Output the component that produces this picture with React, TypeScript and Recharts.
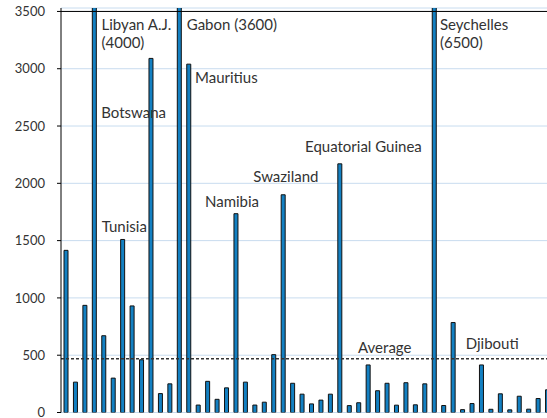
import React from 'react';
import {
  BarChart,
  Bar,
  XAxis,
  YAxis,
  CartesianGrid,
  ReferenceLine,
  ReferenceDot,
} from 'recharts';

// countries in chart order (only the annotated ones are named in the source)
const countries = [
  'C01', 'C02', 'C03', 'Libyan A.J.', 'C05', 'C06', 'Tunisia', 'C08', 'C09', 'Botswana',
  'C11', 'C12', 'Gabon', 'Mauritius', 'C15', 'C16', 'C17', 'C18', 'Namibia', 'C20',
  'C21', 'C22', 'C23', 'Swaziland', 'C25', 'C26', 'C27', 'C28', 'C29', 'Equatorial Guinea',
  'C31', 'C32', 'C33', 'C34', 'C35', 'C36', 'C37', 'C38', 'C39', 'Seychelles',
  'C41', 'Djibouti', 'C43', 'C44', 'C45', 'C46', 'C47', 'C48', 'C49', 'C50',
  'C51', 'C52',
];

const values = [
  1415, 265, 935, 4000, 670, 300, 1510, 930, 460, 3090,
  165, 250, 3600, 3040, 65, 272, 115, 215, 1735, 265,
  65, 90, 505, 1900, 255, 160, 75, 108, 160, 2170,
  60, 85, 415, 190, 255, 64, 260, 67, 250, 6500,
  61, 785, 25, 78, 415, 28, 163, 23, 142, 29,
  122, 198,
];

const average = 470;
const yTicks = [0, 500, 1000, 1500, 2000, 2500, 3000, 3500];

const data = countries.map((name, i) => ({ name, value: values[i] }));

// text annotations: anchored on a bar, at a data height, shifted by dx px
const notes = [
  { at: 'Libyan A.J.', y: 3340, dx: 7.5, lines: ['Libyan A.J.', '(4000)'] },
  { at: 'Gabon', y: 3340, dx: 7.7, lines: ['Gabon (3600)'] },
  { at: 'Seychelles', y: 3340, dx: 6, lines: ['Seychelles', '(6500)'] },
  { at: 'Mauritius', y: 2878, dx: 6.5, lines: ['Mauritius'] },
  { at: 'Botswana', y: 2567, dx: -49.5, lines: ['Botswana'] },
  { at: 'Tunisia', y: 1578, dx: -20.7, lines: ['Tunisia'] },
  { at: 'Namibia', y: 1796, dx: -30.7, lines: ['Namibia'] },
  { at: 'Swaziland', y: 2014, dx: -29.6, lines: ['Swaziland'] },
  { at: 'Equatorial Guinea', y: 2276, dx: -34.5, lines: ['Equatorial Guinea'] },
  { at: 'Djibouti', y: 551, dx: 12.9, lines: ['Djibouti'] },
  { at: 'C32', y: 522, dx: -0.4, lines: ['Average'] },
];

const FONT = 'Lato, "Open Sans", sans-serif';

const NoteText = ({ cx, cy, dx, lines }: any) => (
  <text x={cx + dx} y={cy} fill="#333" fontSize={15} fontFamily={FONT}>
    {lines.map((l: string, i: number) => (
      <tspan key={i} x={cx + dx} dy={i === 0 ? 0 : 18.5}>
        {l}
      </tspan>
    ))}
  </text>
);

export default function App() {
  return (
    <div style={{ width: 547, height: 418, overflow: 'hidden' }}>
      <style>{'html,body{margin:0;overflow:hidden;}'}</style>
      <BarChart
        width={560}
        height={418}
        data={data}
        margin={{ top: 8, right: 8, bottom: 5.5, left: 0 }}
      >
        <CartesianGrid vertical={false} stroke="#c8dcef" strokeWidth={1} />
        <XAxis
          dataKey="name"
          type="category"
          tick={false}
          tickLine={false}
          height={0}
          axisLine={{ stroke: '#000', strokeWidth: 1 }}
        />
        <YAxis
          domain={[0, 3530]}
          ticks={yTicks}
          interval={0}
          allowDataOverflow
          width={61}
          tickSize={4}
          tickMargin={12}
          axisLine={{ stroke: '#000' }}
          tickLine={{ stroke: '#000' }}
          tick={{ fill: '#333', fontSize: 13, fontFamily: FONT }}
        />
        <ReferenceLine y={3500} stroke="#000" strokeWidth={1} />
        <Bar
          dataKey="value"
          barSize={4}
          fill="#1380c2"
          stroke="#111"
          strokeWidth={1}
          isAnimationActive={false}
        />
        <ReferenceLine
          y={average}
          stroke="#333"
          strokeWidth={1.5}
          strokeDasharray="3 2"
        />
        {notes.map((n) => (
          <ReferenceDot
            key={n.lines[0]}
            x={n.at}
            y={n.y}
            r={1}
            shape={(p: any) => <NoteText cx={p.cx} cy={p.cy} dx={n.dx} lines={n.lines} />}
          />
        ))}
      </BarChart>
    </div>
  );
}
